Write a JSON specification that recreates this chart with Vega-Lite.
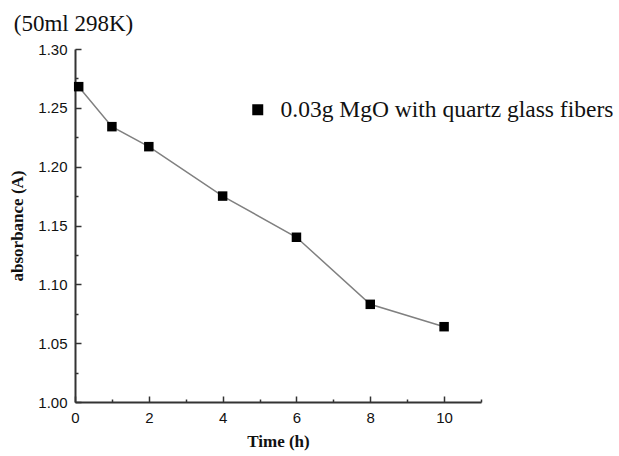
{
  "$schema": "https://vega.github.io/schema/vega-lite/v6.json",
  "width": 406,
  "height": 353,
  "autosize": {"type": "none"},
  "padding": {"left": 75, "top": 49, "right": 138, "bottom": 54},
  "background": "white",
  "title": {
    "text": "(50ml 298K)",
    "anchor": "start",
    "dx": 5,
    "dy": 30,
    "offset": 18,
    "baseline": "alphabetic",
    "font": "Liberation Serif",
    "fontSize": 23,
    "fontWeight": "normal",
    "color": "#111"
  },
  "config": {"view": {"stroke": null}},
  "data": {
    "values": [
      {"t": 0.1, "a": 1.268, "series": "0.03g MgO with quartz glass fibers"},
      {"t": 1, "a": 1.234, "series": "0.03g MgO with quartz glass fibers"},
      {"t": 2, "a": 1.217, "series": "0.03g MgO with quartz glass fibers"},
      {"t": 4, "a": 1.175, "series": "0.03g MgO with quartz glass fibers"},
      {"t": 6, "a": 1.140, "series": "0.03g MgO with quartz glass fibers"},
      {"t": 8, "a": 1.083, "series": "0.03g MgO with quartz glass fibers"},
      {"t": 10, "a": 1.064, "series": "0.03g MgO with quartz glass fibers"}
    ]
  },
  "encoding": {
    "x": {
      "field": "t",
      "type": "quantitative",
      "scale": {"domain": [0, 11], "nice": false, "zero": false},
      "axis": {
        "values": [0, 1, 2, 3, 4, 5, 6, 7, 8, 9, 10, 11],
        "labelExpr": "datum.value % 2 == 0 ? datum.label : ''",
        "tickSize": {"condition": {"test": "datum.value % 2 == 0", "value": -6}, "value": -3},
        "grid": false,
        "domainColor": "#333",
        "domainWidth": 2,
        "tickColor": "#333",
        "tickWidth": 1.5,
        "labelFont": "Liberation Sans",
        "labelFontSize": 15,
        "labelColor": "#111",
        "labelPadding": 14,
        "labelFlush": false,
        "title": "Time (h)",
        "titleFont": "Liberation Serif",
        "titleFontSize": 17,
        "titleFontWeight": "bold",
        "titleColor": "#111",
        "titlePadding": 8
      }
    },
    "y": {
      "field": "a",
      "type": "quantitative",
      "scale": {"domain": [1.0, 1.3], "nice": false, "zero": false},
      "axis": {
        "values": [1, 1.025, 1.05, 1.075, 1.1, 1.125, 1.15, 1.175, 1.2, 1.225, 1.25, 1.275, 1.3],
        "format": ".2f",
        "labelExpr": "round(datum.value * 40) % 2 == 0 ? datum.label : ''",
        "tickSize": {"condition": {"test": "round(datum.value * 40) % 2 == 0", "value": -6}, "value": -3},
        "grid": false,
        "domainColor": "#333",
        "domainWidth": 2,
        "tickColor": "#333",
        "tickWidth": 1.5,
        "labelFont": "Liberation Sans",
        "labelFontSize": 15,
        "labelColor": "#111",
        "labelPadding": 14,
        "labelFlush": false,
        "title": "absorbance (A)",
        "titleFont": "Liberation Serif",
        "titleFontSize": 17,
        "titleFontWeight": "bold",
        "titleColor": "#111",
        "titlePadding": 11
      }
    }
  },
  "layer": [
    {
      "mark": {"type": "line", "color": "#808080", "strokeWidth": 1.5},
      "encoding": {}
    },
    {
      "mark": {"type": "point", "shape": "square", "filled": true, "size": 90, "opacity": 1},
      "encoding": {
        "color": {
          "field": "series",
          "type": "nominal",
          "scale": {"range": ["#000000"]},
          "legend": {
            "orient": "none",
            "legendX": 171,
            "legendY": 49,
            "title": null,
            "symbolType": "square",
            "symbolSize": 90,
            "symbolFillColor": "#000000",
            "symbolStrokeColor": "#000000",
            "symbolOpacity": 1,
            "labelFont": "Liberation Serif",
            "labelFontSize": 23.5,
            "labelColor": "#111",
            "labelLimit": 0,
            "labelOffset": 11,
            "padding": 0
          }
        }
      }
    }
  ]
}
